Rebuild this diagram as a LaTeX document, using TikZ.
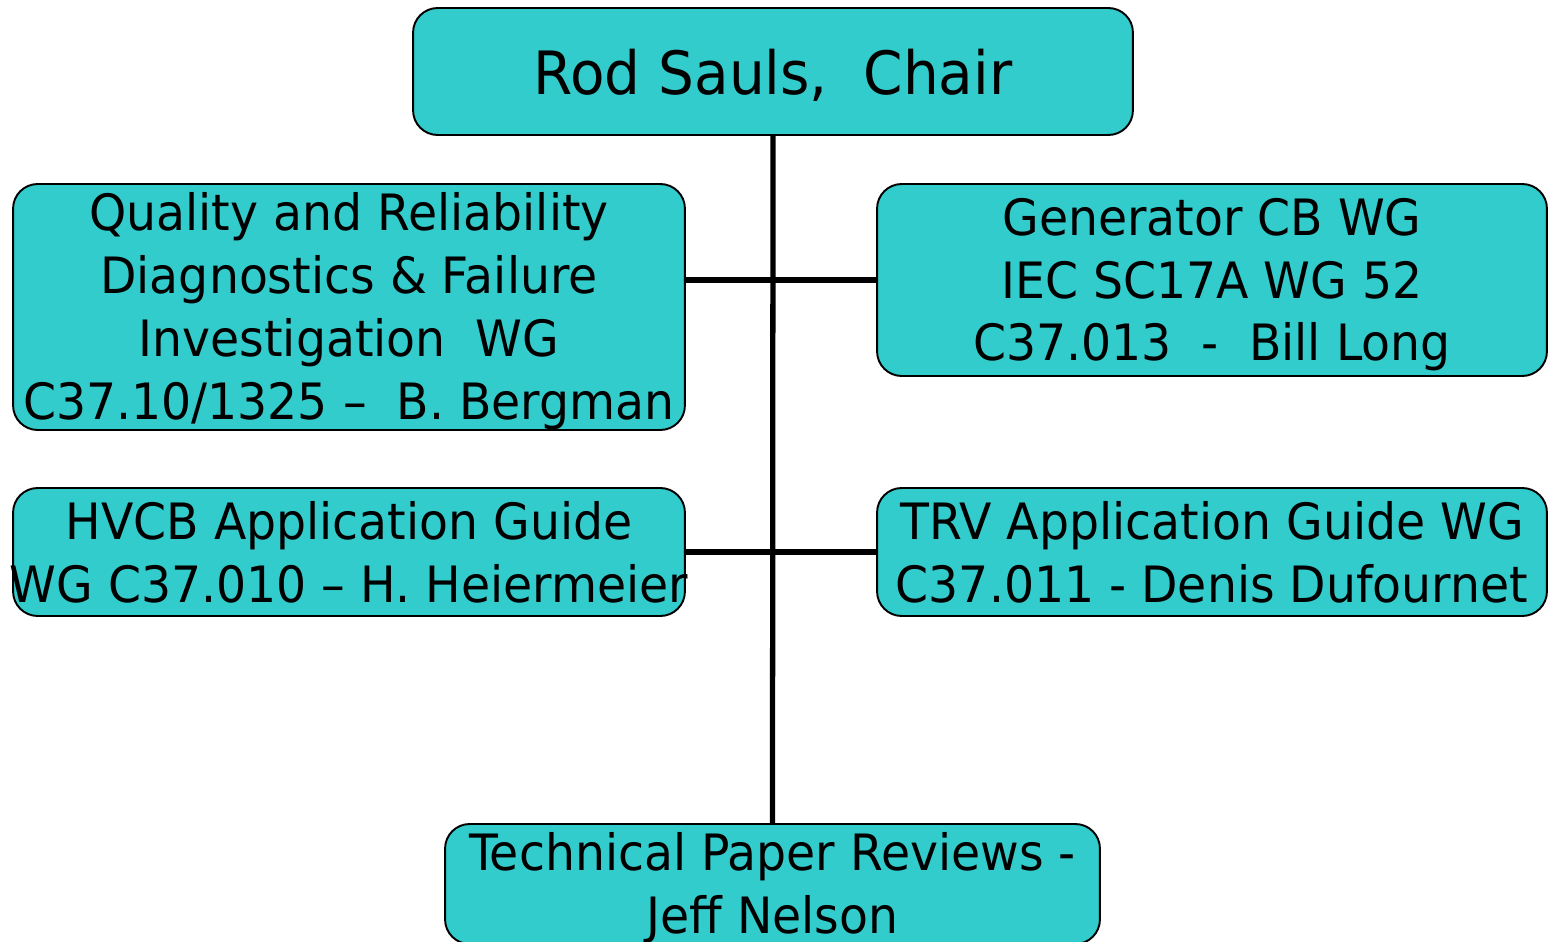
\documentclass[tikz,border=0pt]{standalone}
\usepackage{fontspec}
\setmainfont{DejaVu Sans}[FakeStretch=0.945]
\definecolor{boxcyan}{RGB}{51,204,204}
\newcommand{\oneline}[1]{\makebox[0pt]{\rule[-0.17em]{0pt}{1.1em}#1}}
\begin{document}
\begin{tikzpicture}[x=0.02cm,y=-0.02cm,
  box/.style={draw=black, line width=1.1pt, fill=boxcyan, rounded corners=14pt,
    align=center, inner sep=0pt, font=\fontsize{28.5}{35.7}\selectfont},
  link/.style={draw=black, line width=3pt}]
\useasboundingbox (0,0) rectangle (1549,942);
\node[box, minimum width=14.4cm, minimum height=2.54cm,
  font=\fontsize{34}{42}\selectfont] (rod) at (773,71.5) {\oneline{Rod Sauls,\ \ Chair}};
\node[box, minimum width=13.44cm, minimum height=4.92cm] (qual) at (349,307)
  {\oneline{Quality and Reliability}\\ \oneline{Diagnostics \& Failure}\\ \oneline{Investigation\ \ WG}\\ \oneline{C37.10/1325 –\ \ B. Bergman}};
\node[box, minimum width=13.4cm, minimum height=3.84cm] (gen) at (1212,280)
  {\oneline{Generator CB WG}\\ \oneline{IEC SC17A WG 52}\\ \oneline{C37.013\ \ -\ \ Bill Long}};
\node[box, minimum width=13.44cm, minimum height=2.56cm] (hvcb) at (349,552)
  {\oneline{HVCB Application Guide}\\ \oneline{WG C37.010 – H. Heiermeier}};
\node[box, minimum width=13.4cm, minimum height=2.56cm] (trv) at (1212,552)
  {\oneline{TRV Application Guide WG}\\ \oneline{C37.011 - Denis Dufournet}};
\node[box, minimum width=13.1cm, minimum height=2.4cm] (tech) at (772.5,884)
  {\oneline{Technical Paper Reviews -}\\ \oneline{Jeff Nelson}};
\draw[link] (rod.south) -- (tech.north);
\draw[link] (qual.east |- gen.west) -- (gen.west);
\draw[link] (hvcb.east) -- (trv.west);
\end{tikzpicture}
\end{document}
